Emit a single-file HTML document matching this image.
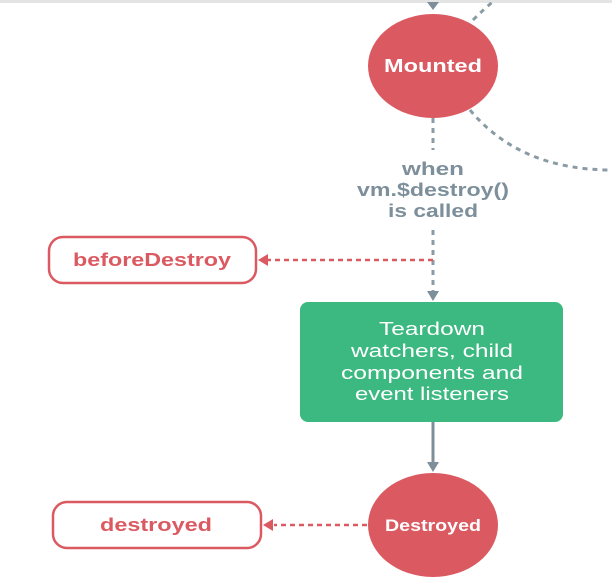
<!DOCTYPE html>
<html><head><style>
body{margin:0;background:#fff;}
svg{display:block;font-family:"Liberation Sans",sans-serif;}
</style></head><body>
<svg width="612" height="577" viewBox="0 0 612 577">
<rect x="0" y="0" width="612" height="3" fill="#e4e4e4"/>
<polygon points="427,2 439,2 433,10" fill="#7d8f9a"/>
<path d="M473,20 Q485,8 495,0" stroke="#8a9ba5" stroke-width="3" fill="none" stroke-dasharray="5,5"/>
<path d="M470,110 Q520,170 612,170" stroke="#8a9ba5" stroke-width="3" fill="none" stroke-dasharray="5,5"/>
<ellipse cx="433" cy="66" rx="65" ry="52" fill="#db5a61"/>
<text x="433" y="72" text-anchor="middle" fill="#fff" font-weight="bold" font-size="18" textLength="98" lengthAdjust="spacingAndGlyphs">Mounted</text>
<line x1="433" y1="118" x2="433" y2="150" stroke="#8a9ba5" stroke-width="3" stroke-dasharray="5,5"/>
<g fill="#7d8f9a" font-weight="bold" font-size="18" text-anchor="middle" lengthAdjust="spacingAndGlyphs">
<text x="433" y="175" textLength="62" lengthAdjust="spacingAndGlyphs">when</text>
<text x="433" y="196" textLength="152" lengthAdjust="spacingAndGlyphs">vm.$destroy()</text>
<text x="433" y="217" textLength="90" lengthAdjust="spacingAndGlyphs">is called</text>
</g>
<line x1="433" y1="230" x2="433" y2="292" stroke="#8a9ba5" stroke-width="3" stroke-dasharray="5,5"/>
<polygon points="427,291 439,291 433,301" fill="#7d8f9a"/>
<line x1="433" y1="260" x2="266" y2="260" stroke="#db5a61" stroke-width="2.5" stroke-dasharray="5,4"/>
<polygon points="258,260 268,254 268,266" fill="#db5a61"/>
<rect x="49" y="237" width="207" height="46" rx="14" fill="#fff" stroke="#db5a61" stroke-width="2.5"/>
<text x="152" y="266" text-anchor="middle" fill="#db5a61" font-weight="bold" font-size="18" textLength="158" lengthAdjust="spacingAndGlyphs">beforeDestroy</text>
<rect x="300" y="302" width="263" height="120" rx="8" fill="#3cb881"/>
<g fill="#fff" font-size="18" text-anchor="middle">
<text x="432" y="335" textLength="106" lengthAdjust="spacingAndGlyphs">Teardown</text>
<text x="432" y="357" textLength="162" lengthAdjust="spacingAndGlyphs">watchers, child</text>
<text x="432" y="379" textLength="182" lengthAdjust="spacingAndGlyphs">components and</text>
<text x="432" y="400" textLength="154" lengthAdjust="spacingAndGlyphs">event listeners</text>
</g>
<line x1="433" y1="422" x2="433" y2="464" stroke="#7d8f9a" stroke-width="3"/>
<polygon points="427,462 439,462 433,472" fill="#7d8f9a"/>
<ellipse cx="433" cy="525" rx="65" ry="52" fill="#db5a61"/>
<text x="433" y="531" text-anchor="middle" fill="#fff" font-weight="bold" font-size="17" textLength="96" lengthAdjust="spacingAndGlyphs">Destroyed</text>
<line x1="367" y1="525" x2="274" y2="525" stroke="#db5a61" stroke-width="2.5" stroke-dasharray="5,4"/>
<polygon points="263,525 273,519 273,531" fill="#db5a61"/>
<rect x="53" y="502" width="208" height="46" rx="14" fill="#fff" stroke="#db5a61" stroke-width="2.5"/>
<text x="156" y="531" text-anchor="middle" fill="#db5a61" font-weight="bold" font-size="18" textLength="112" lengthAdjust="spacingAndGlyphs">destroyed</text>
</svg>
</body></html>
